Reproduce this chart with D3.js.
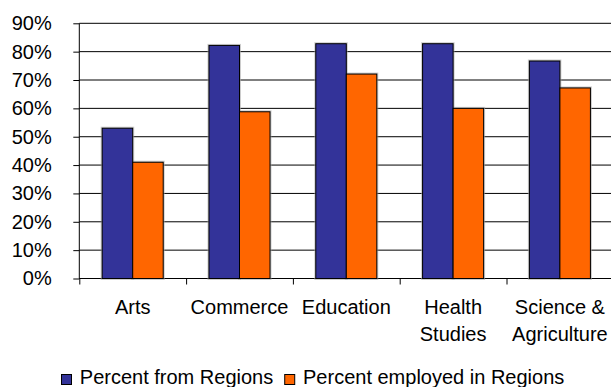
<!DOCTYPE html>
<html>
<head>
<meta charset="utf-8">
<script src="https://cdn.jsdelivr.net/npm/d3@7"></script>
<style>
  html, body { margin: 0; padding: 0; background: #fff; }
  svg { display: block; font-family: "Liberation Sans", Arial, sans-serif; }
</style>
</head>
<body>
<svg id="chart" width="611" height="387"></svg>
<script>
// Faculty categories (each entry is the lines of its axis label)
const categories = ["Arts", "Commerce", "Education", "Health Studies", "Science & Agriculture"];
const categoryLines = [["Arts"], ["Commerce"], ["Education"], ["Health", "Studies"], ["Science &", "Agriculture"]];

// Series values (fractions)
const seriesNames = ["Percent from Regions", "Percent employed in Regions"];
const fromRegions = [0.53, 0.822, 0.828, 0.828, 0.767];
const employedInRegions = [0.41, 0.588, 0.721, 0.60, 0.672];

// Y-axis tick values
const yTicks = [0, 0.1, 0.2, 0.3, 0.4, 0.5, 0.6, 0.7, 0.8, 0.9];

const colors = ["#333399", "#FF6600"];
const fontSize = 20;

const svg = d3.select("#chart");
const plot = { left: 79.3, top: 23.3, bottom: 278.5, step: 106.8 };
plot.right = plot.left + plot.step * categories.length;

const x0 = d3.scaleBand().domain(categories).range([plot.left, plot.right]).padding(0);
const x1 = d3.scaleBand().domain(seriesNames).range([0, x0.bandwidth()])
  .paddingInner(0).paddingOuter(0.75);
const y = d3.scaleLinear().domain([0, 0.9]).range([plot.bottom, plot.top]);

// Horizontal gridlines
svg.append("g").selectAll("line").data(yTicks).join("line")
  .attr("x1", plot.left).attr("x2", plot.right)
  .attr("y1", d => y(d)).attr("y2", d => y(d))
  .attr("stroke", "#000").attr("stroke-width", 1);

// Y axis with outward ticks
const yAxis = svg.append("g")
  .attr("transform", `translate(${plot.left},0)`)
  .call(d3.axisLeft(y).tickValues(yTicks).tickFormat(d3.format(".0%"))
    .tickSize(6).tickPadding(21.6));
yAxis.select(".domain").attr("d", `M0,${plot.top}V${plot.bottom}`).attr("stroke", "#000");
yAxis.selectAll(".tick line").attr("stroke", "#000");
yAxis.selectAll("text").attr("font-size", fontSize).attr("fill", "#000")
  .attr("font-family", "'Liberation Sans', Arial, sans-serif");

// X axis: category boundary ticks
const xb = d3.scaleLinear().domain([0, categories.length]).range([plot.left, plot.right]);
const xAxis = svg.append("g")
  .attr("transform", `translate(0,${plot.bottom})`)
  .call(d3.axisBottom(xb).tickValues(d3.range(categories.length + 1)).tickFormat("").tickSize(6));
xAxis.select(".domain").attr("d", `M${plot.left},0H${plot.right}`).attr("stroke", "#000");
xAxis.selectAll(".tick line").attr("stroke", "#000");

// Bars
const series = [fromRegions, employedInRegions];
const groups = svg.append("g").selectAll("g").data(categories).join("g")
  .attr("transform", d => `translate(${x0(d)},0)`);
groups.each(function(cat, i) {
  const g = d3.select(this);
  const rows = seriesNames.map((name, s) => ({ name, value: series[s][i], color: colors[s] }));
  // soft halo around each bar outline
  g.selectAll("rect.halo").data(rows).join("rect").attr("class", "halo")
    .attr("x", d => x1(d.name)).attr("width", x1.bandwidth())
    .attr("y", d => y(d.value)).attr("height", d => y(0) - y(d.value))
    .attr("fill", "none").attr("stroke", "#aaa").attr("stroke-width", 3).attr("opacity", 0.6);
  g.selectAll("rect.bar").data(rows).join("rect").attr("class", "bar")
    .attr("x", d => x1(d.name)).attr("width", x1.bandwidth())
    .attr("y", d => y(d.value)).attr("height", d => y(0) - y(d.value))
    .attr("fill", d => d.color).attr("stroke", "#000").attr("stroke-width", 1);
});

// Category labels
const labels = svg.append("g").selectAll("text").data(categories).join("text")
  .attr("text-anchor", "middle").attr("font-size", fontSize).attr("fill", "#000")
  .attr("transform", d => `translate(${x0(d) + x0.bandwidth() / 2},314)`);
labels.each(function(d, i) {
  d3.select(this).selectAll("tspan").data(categoryLines[i]).join("tspan")
    .attr("x", 0).attr("y", (l, k) => k * 27).text(l => l);
});

// Legend
const legend = svg.append("g").attr("transform", "translate(61,0)");
let lx = 0;
seriesNames.forEach((name, s) => {
  legend.append("rect").attr("x", lx + 0.5).attr("y", 374.5).attr("width", 10).attr("height", 10)
    .attr("fill", colors[s]).attr("stroke", "#000").attr("stroke-width", 1);
  const t = legend.append("text").attr("x", lx + 18.8).attr("y", 384.3)
    .attr("font-size", fontSize).attr("fill", "#000").text(name);
  lx += 18.8 + t.node().getComputedTextLength() + 11;
});
</script>
</body>
</html>
